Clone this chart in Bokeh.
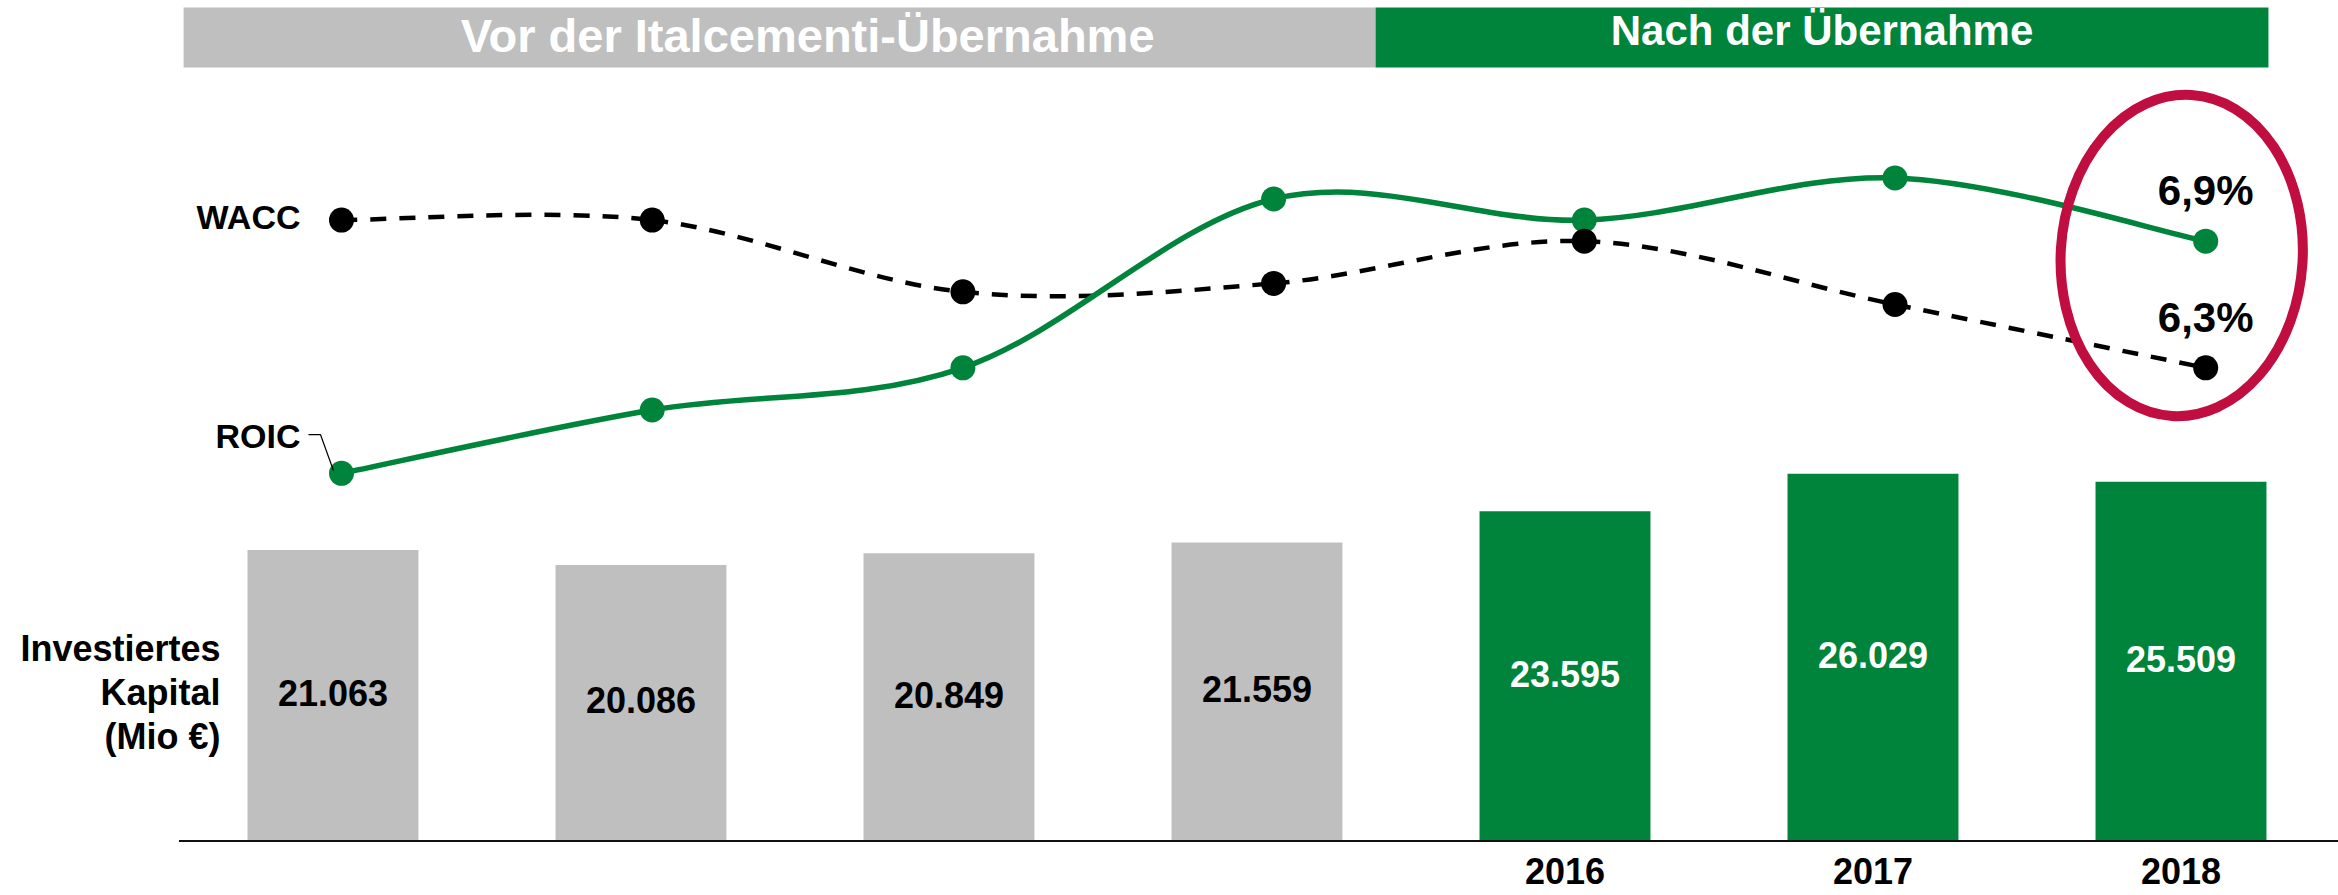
from bokeh.plotting import figure
from bokeh.models import Range1d, ColumnDataSource
from bokeh.embed import file_html
from bokeh.resources import INLINE
from bokeh.core.properties import value

# ---------------- data ----------------
period_titles = ["Vor der Italcementi-Übernahme", "Nach der Übernahme"]
bar_period = [0, 0, 0, 0, 1, 1, 1]
year_labels = ["", "", "", "", "2016", "2017", "2018"]
kapital = [21063, 20086, 20849, 21559, 23595, 26029, 25509]   # Investiertes Kapital (Mio €)
roic = [5.8, 6.1, 6.3, 7.1, 7.0, 7.2, 6.9]                    # %
wacc = [7.0, 7.0, 6.66, 6.70, 6.90, 6.60, 6.3]                # %
series_names = ["WACC", "ROIC"]
kapital_title = ["Investiertes", "Kapital", "(Mio €)"]

# ---------------- styles / layout ----------------
W, H = 2338, 895
FONT = value("Liberation Sans")
GREEN = "#00833B"
GRAY = "#BFBFBF"
RED = "#C00E40"
BLACK = "#000000"

KAPITAL_BASE = 2122          # value axis of the bars does not start at zero
bx = Range1d(-1.0795, 6.5114)
by = Range1d(-1426, 56842)
lx = Range1d(-1.0975, 6.4274)
ly = Range1d(3.799, 8.0408)
BAR_W = 0.555
BASE_SHIFT = 0.43            # em: correction for the renderer's alphabetic baseline


def dx(r, px):
    return px * (r.end - r.start) / W


def dy(r, px):
    return px * (r.end - r.start) / H


def tb(y, r, fs):
    """anchor so that the text baseline lands on data value y"""
    return y + dy(r, BASE_SHIFT * fs)


def pct(v):
    return f"{v:.1f}".replace(".", ",") + "%"


n = len(kapital)
idx = list(range(n))

p = figure(width=W, height=H, x_range=bx, y_range=by,
           output_backend="svg", toolbar_location=None, min_border=0,
           x_axis_location=None, y_axis_location=None,
           outline_line_color=None, background_fill_color="white",
           border_fill_color="white")
p.grid.visible = False
p.extra_x_ranges = {"lx": lx}
p.extra_y_ranges = {"ly": ly}

TXT = dict(text_font=FONT, text_font_style="bold", text_baseline="alphabetic")

# ---- period banners ----
ban_top = by.end - dy(by, 7)
ban_bot = by.end - dy(by, 67)
first0, last0 = bar_period.index(0), len(bar_period) - 1 - bar_period[::-1].index(0)
first1, last1 = bar_period.index(1), len(bar_period) - 1 - bar_period[::-1].index(1)
ban_left = [first0 - 0.485, last0 + 0.385]
ban_right = [last0 + 0.385, last1 + BAR_W / 2 + dx(bx, 2)]
p.quad(left=ban_left, right=ban_right, top=ban_top, bottom=ban_bot,
       fill_color=[GRAY, GREEN], line_color=None)
ban_mid = [(l + r) / 2 for l, r in zip(ban_left, ban_right)]
p.text(x=[ban_mid[0] + dx(bx, 28)], y=[tb(by.end - dy(by, 55), by, 47)], text=[period_titles[0]],
       text_font_size="47px", text_color="white", text_align="center", **TXT)
p.text(x=[ban_mid[1]], y=[tb(by.end - dy(by, 48.3), by, 42)], text=[period_titles[1]],
       text_font_size="42px", text_color="white", text_align="center", **TXT)

# ---- bars ----
bar_colors = [GRAY if q == 0 else GREEN for q in bar_period]
p.vbar(x=idx, top=kapital, bottom=KAPITAL_BASE, width=BAR_W,
       fill_color=bar_colors, line_color=None)
p.segment(x0=[-0.5], x1=[bx.end], y0=[KAPITAL_BASE], y1=[KAPITAL_BASE],
          line_color="#111111", line_width=2)

mid = [(KAPITAL_BASE + v) / 2 for v in kapital]
lab_base = [m - dy(by, 12.9) for m in mid]
lab_txt = [f"{v:,}".replace(",", ".") for v in kapital]
lab_col = [BLACK if q == 0 else "white" for q in bar_period]
p.text(x=idx, y=[tb(b, by, 36) for b in lab_base], text=lab_txt, text_color=lab_col,
       text_font_size="36px", text_align="center", **TXT)

# year (category) labels
p.text(x=idx, y=[tb(KAPITAL_BASE - dy(by, 45), by, 36)] * n, text=year_labels,
       text_color=BLACK, text_font_size="36px", text_align="center", **TXT)

# value axis title
t_x = 0 - BAR_W / 2 - dx(bx, 27)
t_base = [lab_base[0] + dy(by, 44), lab_base[0], lab_base[0] - dy(by, 44)]
p.text(x=[t_x] * 3, y=[tb(b, by, 36) for b in t_base], text=kapital_title,
       text_color=BLACK, text_font_size="36px", text_align="right", **TXT)


# ---- smoothed lines ----
def bezier_segments(xs, ys):
    m = len(xs)
    seg = dict(x0=[], y0=[], x1=[], y1=[], cx0=[], cy0=[], cx1=[], cy1=[])
    for i in range(m - 1):
        a = i - 1 if i > 0 else i
        d = i + 2 if i + 2 < m else i + 1
        seg["x0"].append(xs[i]); seg["y0"].append(ys[i])
        seg["x1"].append(xs[i + 1]); seg["y1"].append(ys[i + 1])
        seg["cx0"].append(xs[i] + (xs[i + 1] - xs[a]) / 6)
        seg["cy0"].append(ys[i] + (ys[i + 1] - ys[a]) / 6)
        seg["cx1"].append(xs[i + 1] - (xs[d] - xs[i]) / 6)
        seg["cy1"].append(ys[i + 1] - (ys[d] - ys[i]) / 6)
    return ColumnDataSource(seg)


p.bezier(x0="x0", y0="y0", x1="x1", y1="y1", cx0="cx0", cy0="cy0", cx1="cx1", cy1="cy1",
         source=bezier_segments(idx, wacc), x_range_name="lx", y_range_name="ly",
         line_color=BLACK, line_width=4.5, line_dash="16 13")
p.bezier(x0="x0", y0="y0", x1="x1", y1="y1", cx0="cx0", cy0="cy0", cx1="cx1", cy1="cy1",
         source=bezier_segments(idx, roic), x_range_name="lx", y_range_name="ly",
         line_color=GREEN, line_width=5.5)
p.scatter(x=idx, y=roic, size=25, fill_color=GREEN, line_color=None,
          x_range_name="lx", y_range_name="ly")
p.scatter(x=idx, y=wacc, size=25, fill_color=BLACK, line_color=None,
          x_range_name="lx", y_range_name="ly")

# series labels
p.text(x=[0 - dx(lx, 41)] * 2,
       y=[tb(wacc[0] - dy(ly, 12), ly, 34), tb(roic[0] + dy(ly, 22.7), ly, 34)],
       text=series_names, text_color=BLACK, text_font_size="34px", text_align="right",
       x_range_name="lx", y_range_name="ly", **TXT)
p.line(x=[dx(lx, -33), dx(lx, -21), dx(lx, -8)],
       y=[roic[0] + dy(ly, 38.7), roic[0] + dy(ly, 38.7), roic[0] + dy(ly, 2.7)],
       line_color=BLACK, line_width=1.3, x_range_name="lx", y_range_name="ly")

# highlight of the last year
last = n - 1
p.ellipse(x=[last + dx(lx, -24)], y=[(roic[last] + wacc[last]) / 2 + dy(ly, 49)],
          width=242, height=322, width_units="screen", height_units="screen",
          angle=-0.06, fill_color=None, line_color=RED, line_width=10,
          x_range_name="lx", y_range_name="ly")
p.text(x=[last, last],
       y=[tb(roic[last] + dy(ly, 32.7), ly, 42), tb(wacc[last] + dy(ly, 32), ly, 42)],
       text=[pct(roic[last]), pct(wacc[last])], text_color=BLACK,
       text_font_size="42px", text_align="center",
       x_range_name="lx", y_range_name="ly", **TXT)

open("out.html", "w").write(file_html(p, INLINE))
